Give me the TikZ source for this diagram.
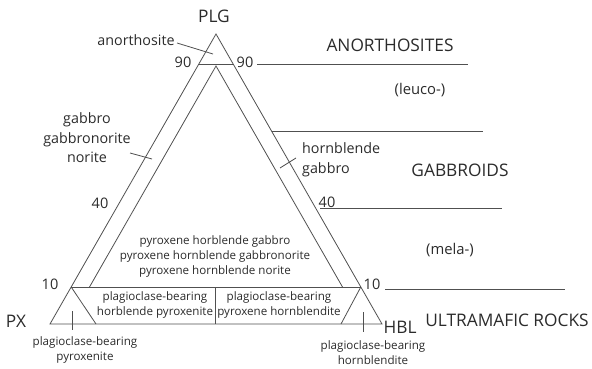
\documentclass[tikz,border=0pt]{standalone}
\usepackage{fontspec}
\setmainfont{Open Sans}
\definecolor{ink}{HTML}{2B2B2B}
\definecolor{ln}{HTML}{505050}
\begin{document}
\begin{tikzpicture}[x=1pt,y=-1pt,
  edge/.style={draw=ln, line width=0.8pt},
  big/.style={text=ink, font=\fontsize{17.3}{20}\selectfont, inner sep=0pt},
  mid/.style={text=ink, font=\fontsize{14.8}{18}\selectfont, inner sep=0pt},
  num/.style={text=ink, font=\fontsize{14.5}{17}\selectfont, inner sep=0pt},
  lab/.style={text=ink, font=\fontsize{14.3}{19.5}\selectfont, inner sep=0pt, align=center},
  small/.style={text=ink, font=\fontsize{11.6}{15}\selectfont, inner sep=0pt, align=center},
]
\useasboundingbox (0,0) rectangle (592,369);
% corners
\coordinate (T) at (216,34);
\coordinate (L) at (50,324);
\coordinate (R) at (382,324);
\coordinate (Ti) at (216,66);
\coordinate (Li) at (89.5,287);
\coordinate (Ri) at (342.5,287);
\coordinate (a90l) at (198.8,64);
\coordinate (a90r) at (233.2,64);
\coordinate (a10l) at (71.2,287);
\coordinate (a10r) at (360.8,287);
\coordinate (bl) at (96,324);
\coordinate (br) at (341,324);
\coordinate (dt) at (215,287);
\coordinate (db) at (215,324);
% outer triangle and subdivisions
\draw[edge] (T) -- (L) -- (R) -- cycle;
\draw[edge] (Li) -- (Ti) -- (Ri);
\draw[edge] (a90l) -- (a90r);
\draw[edge] (a10l) -- (a10r);
\draw[edge] (a10l) -- (bl);
\draw[edge] (a10r) -- (br);
\draw[edge] (dt) -- (db);
% ticks
\coordinate (t1a) at (177,43); \coordinate (t1b) at (213,54);
\coordinate (t2a) at (130,153); \coordinate (t2b) at (152,159);
\coordinate (t3a) at (280,168); \coordinate (t3b) at (296,158);
\coordinate (t4a) at (72,311); \coordinate (t4b) at (72,330);
\coordinate (t5a) at (363,312); \coordinate (t5b) at (363,332);
\draw[edge] (t1a) -- (t1b);
\draw[edge] (t2a) -- (t2b);
\draw[edge] (t3a) -- (t3b);
\draw[edge] (t4a) -- (t4b);
\draw[edge] (t5a) -- (t5b);
% right field lines
\coordinate (h1a) at (257,64); \coordinate (h1b) at (468,64);
\coordinate (h2a) at (271.5,131); \coordinate (h2b) at (483,131);
\coordinate (h3a) at (320,208); \coordinate (h3b) at (502,208);
\coordinate (h4a) at (385,289); \coordinate (h4b) at (565,289);
\draw[edge] (h1a) -- (h1b);
\draw[edge] (h2a) -- (h2b);
\draw[edge] (h3a) -- (h3b);
\draw[edge] (h4a) -- (h4b);
% apex labels
\node[big] (plg) at (214,16) {PLG};
\node[big] (px) at (16,321) {PX};
\node[big] (hbl) at (400,327) {HBL};
% field names
\node[big] (anor) at (390,45) {ANORTHOSITES};
\node[mid] (leuco) at (420,90) {(leuco-)};
\node[big] (gabs) at (460,170) {GABBROIDS};
\node[mid] (mela) at (450,250) {(mela-)};
\node[big] (ultra) at (507,320) {ULTRAMAFIC ROCKS};
% numbers
\node[num] (n90l) at (183,62) {90};
\node[num] (n90r) at (245,62) {90};
\node[num] (n40l) at (100,203) {40};
\node[num] (n40r) at (327,202) {40};
\node[num] (n10l) at (50,284) {10};
\node[num] (n10r) at (372,284) {10};
% rock names
\node[lab] (anorth) at (136,40) {anorthosite};
\node[lab] (gab) at (87,138) {gabbro\\gabbronorite\\norite};
\node[lab, align=left, anchor=west] (hgab) at (302,160) {hornblende\\gabbro};
\node[small] (pxhb) at (215,256) {pyroxene horblende gabbro\\pyroxene hornblende gabbronorite\\pyroxene hornblende norite};
\node[small] (pbhp) at (155,305) {plagioclase-bearing\\horblende pyroxenite};
\node[small] (pbph) at (279,305) {plagioclase-bearing\\pyroxene hornblendite};
\node[small] (pbp) at (85,350) {plagioclase-bearing\\pyroxenite};
\node[small] (pbh) at (373,353) {plagioclase-bearing\\hornblendite};
\end{tikzpicture}
\end{document}
